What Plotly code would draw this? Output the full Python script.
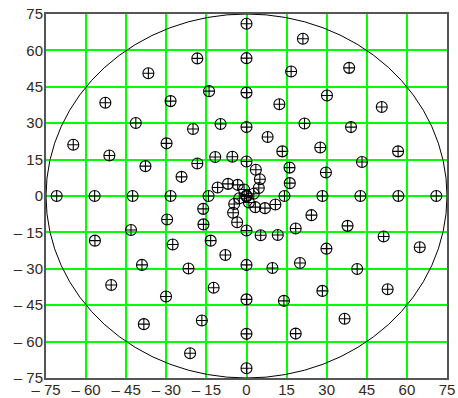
import plotly.graph_objects as go

# Spiral-arm points (four arms, each ending at the centre)
arm_a_x = [71.0, 64.8, 52.8, 36.7, 18.4, 0.0, -16.7, -30.1, -39.1, -43.2, -42.6, -37.8, -29.9,
           -20.0, -9.7, 0.0, 7.9, 13.4, 16.1, 16.2, 14.2, 10.8, 6.9, 3.3, 0.9, 0.0]
arm_a_y = [0.0, -21.1, -38.4, -50.6, -56.7, -56.8, -51.3, -41.4, -28.4, -14.0, 0.0, 12.3, 21.7,
           27.6, 29.7, 28.4, 24.3, 18.4, 11.7, 5.3, 0.0, -3.5, -5.0, -4.6, -2.7, 0.0]

arm_b_x = [0.0, 21.1, 38.4, 50.6, 56.7, 56.8, 51.3, 41.4, 28.4, 14.0, 0.0, -12.3, -21.7,
           -27.6, -29.7, -28.4, -24.3, -18.4, -11.7, -5.3, 0.0, 3.5, 5.0, 4.6, 2.7, 0.0]
arm_b_y = [71.0, 64.8, 52.8, 36.7, 18.4, 0.0, -16.7, -30.1, -39.1, -43.2, -42.6, -37.8, -29.9,
           -20.0, -9.7, 0.0, 7.9, 13.4, 16.1, 16.2, 14.2, 10.8, 6.9, 3.3, 0.9, 0.0]

arm_c_x = [-71.0, -64.8, -52.8, -36.7, -18.4, 0.0, 16.7, 30.1, 39.1, 43.2, 42.6, 37.8, 29.9,
           20.0, 9.7, 0.0, -7.9, -13.4, -16.1, -16.2, -14.2, -10.8, -6.9, -3.3, -0.9, 0.0]
arm_c_y = [0.0, 21.1, 38.4, 50.6, 56.7, 56.8, 51.3, 41.4, 28.4, 14.0, 0.0, -12.3, -21.7,
           -27.6, -29.7, -28.4, -24.3, -18.4, -11.7, -5.3, 0.0, 3.5, 5.0, 4.6, 2.7, 0.0]

arm_d_x = [0.0, -21.1, -38.4, -50.6, -56.7, -56.8, -51.3, -41.4, -28.4, -14.0, 0.0, 12.3, 21.7,
           27.6, 29.7, 28.4, 24.3, 18.4, 11.7, 5.3, 0.0, -3.5, -5.0, -4.6, -2.7, 0.0]
arm_d_y = [-71.0, -64.8, -52.8, -36.7, -18.4, 0.0, 16.7, 30.1, 39.1, 43.2, 42.6, 37.8, 29.9,
           20.0, 9.7, 0.0, -7.9, -13.4, -16.1, -16.2, -14.2, -10.8, -6.9, -3.3, -0.9, 0.0]

boundary_radius = 75

tick_values = [-75, -60, -45, -30, -15, 0, 15, 30, 45, 60, 75]
tick_labels = ["\u2013 75", "\u2013 60", "\u2013 45", "\u2013 30", "\u2013 15", "0",
               "15", "30", "45", "60", "75"]

fig = go.Figure()
for xs, ys in [(arm_a_x, arm_a_y), (arm_b_x, arm_b_y), (arm_c_x, arm_c_y), (arm_d_x, arm_d_y)]:
    fig.add_trace(go.Scatter(
        x=xs, y=ys, mode="markers",
        marker=dict(symbol="circle-cross-open", size=11, color="black", line=dict(width=1.1, color="black")),
        showlegend=False, hoverinfo="x+y",
    ))

fig.add_shape(type="circle", xref="x", yref="y",
              x0=-boundary_radius, y0=-boundary_radius, x1=boundary_radius, y1=boundary_radius,
              line=dict(color="black", width=1), layer="between")

axis_common = dict(
    range=[-75, 75], tickmode="array", tickvals=tick_values, ticktext=tick_labels,
    showgrid=True, gridcolor="#00ff00", gridwidth=1.5,
    zeroline=False, showline=True, mirror=True, linecolor="#555555", linewidth=2,
    ticks="", automargin=False,
    tickfont=dict(family="Liberation Sans, Arial", size=15, color="#33291d"),
)

fig.update_layout(
    width=458, height=398,
    margin=dict(l=46, r=11, t=14, b=20, pad=0),
    paper_bgcolor="white", plot_bgcolor="white",
    xaxis=dict(**axis_common, ticklabelstandoff=-3),
    yaxis=dict(**axis_common, ticklabelstandoff=-2),
)

fig.write_html(
    "out.html",
    config={"displayModeBar": False},
    post_script="document.body.style.margin='0';document.body.style.overflow='hidden';",
)
